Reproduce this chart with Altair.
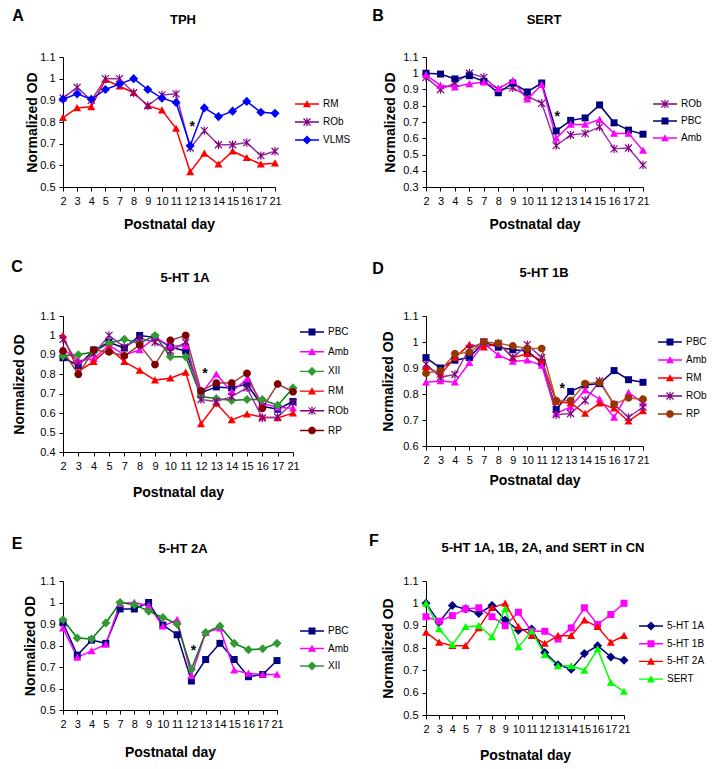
import math
import altair as alt
import pandas as pd

days = ["2", "3", "4", "5", "7", "8", "9", "10", "11", "12", "13", "14", "15", "16", "17", "21"]

# ---- Panel A: TPH
a_names = ["RM", "ROb", "VLMS"]
a_rm = [0.82, 0.865, 0.87, 0.995, 0.965, 0.935, 0.875, 0.855, 0.77, 0.57, 0.655, 0.605, 0.665, 0.635, 0.605, 0.61]
a_rob = [0.91, 0.96, 0.90, 1.0, 1.0, 0.935, 0.875, 0.925, 0.93, 0.68, 0.76, 0.695, 0.695, 0.705, 0.645, 0.665]
a_vlms = [0.905, 0.93, 0.905, 0.95, 0.975, 1.0, 0.95, 0.91, 0.89, 0.69, 0.865, 0.825, 0.85, 0.895, 0.845, 0.84]

# ---- Panel B: SERT
b_names = ["ROb", "PBC", "Amb"]
b_rob = [0.975, 0.90, 0.94, 1.0, 0.975, 0.90, 0.91, 0.86, 0.815, 0.555, 0.62, 0.63, 0.67, 0.535, 0.54, 0.435]
b_pbc = [1.0, 0.995, 0.965, 0.985, 0.95, 0.88, 0.94, 0.885, 0.94, 0.645, 0.71, 0.725, 0.805, 0.695, 0.65, 0.625]
b_amb = [0.99, 0.925, 0.915, 0.935, 0.945, 0.905, 0.955, 0.84, 0.93, 0.60, 0.685, 0.685, 0.715, 0.63, 0.63, 0.525]

# ---- Panel C: 5-HT 1A
c_names = ["PBC", "Amb", "XII", "RM", "ROb", "RP"]
c_pbc = [0.885, 0.845, 0.925, 0.965, 0.935, 1.0, 0.99, 0.94, 0.92, 0.705, 0.735, 0.73, 0.75, 0.635, 0.62, 0.66]
c_amb = [0.93, 0.87, 0.88, 0.95, 0.90, 0.925, 0.99, 0.945, 0.945, 0.70, 0.80, 0.71, 0.775, 0.65, 0.63, 0.625]
c_xii = [0.895, 0.90, 0.915, 0.96, 0.98, 0.96, 1.0, 0.89, 0.89, 0.685, 0.675, 0.665, 0.67, 0.67, 0.64, 0.73]
c_rm = [1.0, 0.815, 0.865, 0.935, 0.865, 0.82, 0.77, 0.78, 0.81, 0.545, 0.65, 0.565, 0.595, 0.58, 0.575, 0.60]
c_rob = [0.98, 0.855, 0.905, 1.0, 0.94, 0.985, 0.965, 0.92, 0.965, 0.67, 0.66, 0.685, 0.73, 0.575, 0.58, 0.655]
c_rp = [0.92, 0.80, 0.925, 0.915, 0.895, 0.95, 0.85, 0.975, 1.0, 0.715, 0.755, 0.755, 0.805, 0.625, 0.75, 0.71]

# ---- Panel D: 5-HT 1B
d_names = ["PBC", "Amb", "RM", "ROb", "RP"]
d_pbc = [0.94, 0.90, 0.93, 0.94, 1.0, 0.98, 0.97, 0.965, 0.92, 0.74, 0.81, 0.835, 0.84, 0.89, 0.855, 0.845]
d_amb = [0.845, 0.85, 0.845, 0.92, 0.995, 0.95, 0.925, 0.93, 0.91, 0.725, 0.75, 0.815, 0.78, 0.71, 0.805, 0.765]
d_rm = [0.905, 0.875, 0.94, 0.99, 0.98, 0.995, 0.94, 0.955, 0.93, 0.77, 0.765, 0.725, 0.765, 0.745, 0.695, 0.735]
d_rob = [0.915, 0.865, 0.875, 0.975, 1.0, 0.995, 0.94, 0.99, 0.94, 0.72, 0.725, 0.775, 0.85, 0.76, 0.71, 0.75]
d_rp = [0.88, 0.89, 0.955, 0.96, 1.0, 0.995, 0.985, 0.975, 0.975, 0.775, 0.775, 0.84, 0.845, 0.76, 0.785, 0.78]

# ---- Panel E: 5-HT 2A
e_names = ["PBC", "Amb", "XII"]
e_pbc = [0.905, 0.755, 0.825, 0.81, 0.97, 0.97, 1.0, 0.895, 0.85, 0.635, 0.735, 0.81, 0.735, 0.655, 0.665, 0.73]
e_amb = [0.88, 0.745, 0.775, 0.805, 0.995, 1.0, 0.985, 0.89, 0.92, 0.66, 0.86, 0.88, 0.685, 0.67, 0.665, 0.665]
e_xii = [0.92, 0.835, 0.83, 0.905, 1.0, 0.99, 0.96, 0.93, 0.90, 0.69, 0.86, 0.89, 0.81, 0.78, 0.785, 0.81]

# ---- Panel F: CN
f_names = ["5-HT 1A", "5-HT 1B", "5-HT 2A", "SERT"]
f_1a = [1.0, 0.915, 0.99, 0.975, 0.955, 0.99, 0.925, 0.88, 0.885, 0.78, 0.725, 0.705, 0.775, 0.81, 0.76, 0.745]
f_1b = [0.94, 0.92, 0.945, 0.975, 0.98, 0.94, 0.90, 0.96, 0.875, 0.875, 0.84, 0.89, 0.98, 0.905, 0.95, 1.0]
f_2a = [0.87, 0.825, 0.81, 0.81, 0.89, 0.98, 1.0, 0.895, 0.855, 0.82, 0.855, 0.855, 0.925, 0.895, 0.825, 0.855]
f_sert = [1.0, 0.885, 0.815, 0.895, 0.90, 0.85, 0.975, 0.805, 0.875, 0.77, 0.72, 0.72, 0.70, 0.795, 0.645, 0.605]

# significance markers (value level of the asterisk at day 12)
stars = {"A": 0.79, "B": 0.75, "C": 0.815, "D": 0.83, "E": 0.79}

FONT = "Liberation Sans"


# ---------- marker shapes as filled polygons ----------
def _norm(pts):
    area = 0.0
    for i in range(len(pts)):
        x1, y1 = pts[i]
        x2, y2 = pts[(i + 1) % len(pts)]
        area += x1 * y2 - x2 * y1
    return pts if area > 0 else pts[::-1]


def _poly(pts):
    pts = _norm(pts)
    return "M" + "L".join(f"{x:.3f},{y:.3f}" for x, y in pts) + "Z"


def _seg(x1, y1, x2, y2, h):
    L = math.hypot(x2 - x1, y2 - y1)
    nx, ny = -(y2 - y1) / L * h, (x2 - x1) / L * h
    return _poly([(x1 + nx, y1 + ny), (x2 + nx, y2 + ny), (x2 - nx, y2 - ny), (x1 - nx, y1 - ny)])


def marker(kind, k=1.0):
    if kind == "tri":
        return _poly([(0, -1.1 * k), (1.15 * k, 0.95 * k), (-1.15 * k, 0.95 * k)])
    if kind == "sq":
        return _poly([(-1 * k, -1 * k), (1 * k, -1 * k), (1 * k, 1 * k), (-1 * k, 1 * k)])
    if kind == "dia":
        return _poly([(0, -1.3 * k), (1.3 * k, 0), (0, 1.3 * k), (-1.3 * k, 0)])
    if kind == "circ":
        return _poly([(1.1 * k * math.cos(2 * math.pi * i / 20), 1.1 * k * math.sin(2 * math.pi * i / 20))
                      for i in range(20)])
    if kind == "ast":
        h = 0.17 * k
        return (_seg(-1 * k, -1 * k, 1 * k, 1 * k, h) + _seg(-1 * k, 1 * k, 1 * k, -1 * k, h)
                + _seg(0, -1.2 * k, 0, 1.2 * k, h))
    return ""


PT_SIZE = 49          # 3.5 px per path unit
LEG_SIZE = 324        # 9 px per path unit
LK = 3.5 / 9.0


def legend_symbol(kind):
    return _seg(-12 / 9.0, 0, 12 / 9.0, 0, 0.7 / 9.0) + marker(kind, LK)


panels = [
    dict(letter="A", title="TPH", names=a_names, vals=[a_rm, a_rob, a_vlms],
         mcol=["#FF0000", "#800080", "#0000FF"], lcol=["#FF0000", "#9933AA", "#0000FF"],
         shp=["tri", "ast", "dia"], ymin=0.5, w=212, h=130,
         tx=120, ty=-37, lx=-45, ly=-41, legx=235, legy=38, rp=4, xtp=11, ytp=0, sdx=2),
    dict(letter="B", title="SERT", names=b_names, vals=[b_rob, b_pbc, b_amb],
         mcol=["#800080", "#000080", "#FF00FF"], lcol=["#9933AA", "#000080", "#FF00FF"],
         shp=["ast", "sq", "tri"], ymin=0.3, w=217, h=130,
         tx=118, ty=-37, lx=-48, ly=-41, legx=230, legy=38, rp=3, xtp=11, ytp=5, sdx=1),
    dict(letter="C", title="5-HT 1A", names=c_names, vals=[c_pbc, c_amb, c_xii, c_rm, c_rob, c_rp],
         mcol=["#000080", "#FF00FF", "#339933", "#FF0000", "#800080", "#800000"],
         lcol=["#000080", "#FF00FF", "#008000", "#FF0000", "#9933AA", "#994444"],
         shp=["sq", "tri", "dia", "tri", "ast", "circ"], ymin=0.4, w=230, h=136,
         tx=122, ty=-38, lx=-46, ly=-49, legx=240, legy=7, rp=5.7, xtp=14, ytp=13, sdx=4),
    dict(letter="D", title="5-HT 1B", names=d_names, vals=[d_pbc, d_amb, d_rm, d_rob, d_rp],
         mcol=["#000080", "#FF00FF", "#FF0000", "#800080", "#993300"],
         lcol=["#000080", "#FF00FF", "#FF0000", "#9933AA", "#B0602A"],
         shp=["sq", "tri", "tri", "ast", "circ"], ymin=0.6, w=217, h=130,
         tx=118, ty=-43, lx=-48, ly=-47, legx=235, legy=17, rp=4, xtp=8, ytp=7, sdx=6),
    dict(letter="E", title="5-HT 2A", names=e_names, vals=[e_pbc, e_amb, e_xii],
         mcol=["#000080", "#FF00FF", "#339933"], lcol=["#000080", "#FF00FF", "#008000"],
         shp=["sq", "tri", "dia"], ymin=0.5, w=214, h=129,
         tx=120, ty=-32, lx=-46, ly=-37, legx=240, legy=41, rp=3.5, xtp=16, ytp=2, sdx=2),
    dict(letter="F", title="5-HT 1A, 1B, 2A, and SERT in CN", names=f_names, vals=[f_1a, f_1b, f_2a, f_sert],
         mcol=["#000080", "#FF00FF", "#FF0000", "#00FF00"], lcol=["#000080", "#FF00FF", "#FF0000", "#00FF00"],
         shp=["dia", "sq", "tri", "tri"], ymin=0.5, w=198, h=134,
         tx=117, ty=-33, lx=-52, ly=-40, legx=216, legy=36, rp=3.7, xtp=14, ytp=7, sdx=0),
]


def build(p):
    rows = []
    for name, vals in zip(p["names"], p["vals"]):
        for i, (d, v) in enumerate(zip(days, vals)):
            rows.append({"day": d, "value": v, "series": name, "idx": i})
    df = pd.DataFrame(rows)

    ticks = [round(p["ymin"] + 0.1 * i, 1) for i in range(int(round((1.1 - p["ymin"]) / 0.1)) + 1)]
    x = alt.X("day:O", sort=days, scale=alt.Scale(type="point", padding=0),
              axis=alt.Axis(title="Postnatal day", titlePadding=p["xtp"], labelAngle=0, labelOverlap=False))
    y = alt.Y("value:Q", scale=alt.Scale(domain=[p["ymin"], 1.1], nice=False, zero=False),
              axis=alt.Axis(title="Normalized OD", values=ticks, format="~g", titlePadding=p["ytp"]))

    names = p["names"]
    base = alt.Chart(df)

    line = base.mark_line(strokeWidth=1.5).encode(
        x=x, y=y,
        color=alt.Color("series:N", scale=alt.Scale(domain=names, range=p["lcol"]), legend=None),
        order=alt.Order("idx:Q"))

    pts = base.mark_point(filled=True, opacity=1, size=PT_SIZE, strokeWidth=0).encode(
        x=x, y=y,
        color=alt.Color("series:N", scale=alt.Scale(domain=names, range=p["mcol"]), legend=None),
        shape=alt.Shape("series:N", scale=alt.Scale(domain=names, range=[marker(s) for s in p["shp"]]),
                        legend=None))

    leg_props = dict(orient="none", legendX=p["legx"], legendY=p["legy"], title=None,
                     symbolSize=LEG_SIZE, symbolStrokeWidth=0, labelFontSize=10, labelFont=FONT,
                     labelColor="black", labelOffset=7, rowPadding=p["rp"], padding=0)
    leg = base.mark_point(filled=True, opacity=1, size=LEG_SIZE, strokeWidth=0).encode(
        x=x, y=y,
        color=alt.Color("series:N", scale=alt.Scale(domain=names, range=p["mcol"]),
                        legend=alt.Legend(**leg_props)),
        shape=alt.Shape("series:N", scale=alt.Scale(domain=names, range=[legend_symbol(s) for s in p["shp"]]),
                        legend=alt.Legend(**leg_props))
    ).transform_filter("false")

    layers = [line, pts, leg]

    if p["letter"] in stars:
        sdf = pd.DataFrame({"day": ["12"], "value": [stars[p["letter"]]]})
        star = alt.Chart(sdf).mark_text(text="*", fontSize=14, fontWeight="bold", font=FONT, color="black",
                                        baseline="middle", dx=p["sdx"], dy=3).encode(x=x, y=y)
        layers.append(star)

    letter = alt.Chart(pd.DataFrame({"t": [p["letter"]]})).mark_text(
        fontSize=16, fontWeight="bold", font=FONT, color="black", align="center", baseline="middle"
    ).encode(x=alt.value(p["lx"]), y=alt.value(p["ly"]), text="t:N")
    title = alt.Chart(pd.DataFrame({"t": [p["title"]]})).mark_text(
        fontSize=13, fontWeight="bold", font=FONT, color="black", align="center", baseline="middle"
    ).encode(x=alt.value(p["tx"]), y=alt.value(p["ty"]), text="t:N")
    layers += [letter, title]

    return alt.layer(*layers).resolve_scale(color="independent", shape="independent").properties(
        width=p["w"], height=p["h"])


charts = [build(p) for p in panels]

chart = alt.concat(
    *charts, columns=2, spacing={"row": 129, "column": 133}, bounds="flush", align="each"
).resolve_scale(color="independent", shape="independent").properties(
    padding={"left": 3, "top": 0, "right": 0, "bottom": 2}
).configure(font=FONT).configure_view(strokeWidth=0).configure_axis(
    grid=False, domainColor="black", tickColor="black", labelColor="black", titleColor="black",
    labelFontSize=11, titleFontSize=14, titleFontWeight="bold", labelFont=FONT, titleFont=FONT,
    domainWidth=1, tickWidth=1
).configure_axisX(tickSize=4, labelPadding=4).configure_axisY(tickSize=4, labelPadding=4)

chart.save("out.html", embed_options={"renderer": "svg", "actions": False})
